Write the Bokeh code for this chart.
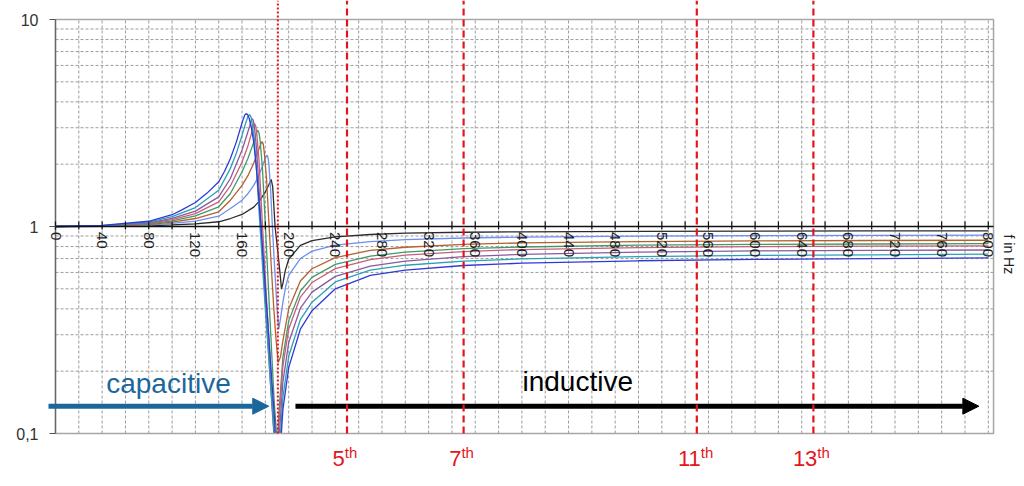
import math
from bokeh.plotting import figure
from bokeh.models import Range1d, Arrow, NormalHead
from bokeh.core.properties import value
from bokeh.embed import file_html
from bokeh.resources import INLINE

# ---------------- data ----------------
f_black = [0, 40, 80, 100, 120, 140, 150, 160, 170, 175, 180, 183, 185, 186.3, 187.3, 188.3, 190, 191.5, 193, 193.8,
           195, 197, 200, 210, 220, 240, 270, 300, 350, 400, 500, 600, 700, 800]
v_black = [1.0, 1.002, 1.008, 1.018, 1.03, 1.054, 1.093, 1.143, 1.24, 1.33, 1.47, 1.59, 1.687, 1.55, 1.25, 1.0, 0.82, 0.68, 0.56, 0.50,
           0.53, 0.61, 0.695, 0.81, 0.855, 0.89, 0.915, 0.928, 0.938, 0.943, 0.948, 0.950, 0.952, 0.953]

f_lblue = [0, 40, 80, 100, 120, 140, 150, 160, 165, 170, 174, 177, 179.5, 180.7, 181.5, 182.3, 183, 184.5, 186, 187.5, 189, 190.5,
           191.5, 193, 195, 197.3, 200, 210, 220, 240, 270, 300, 350, 400, 500, 600, 700, 800]
v_lblue = [1.0, 1.003, 1.015, 1.035, 1.061, 1.121, 1.222, 1.34, 1.44, 1.58, 1.74, 1.92, 2.1, 2.18, 2.21, 2.15, 2.0, 1.5, 1.0, 0.7, 0.5, 0.37,
           0.32, 0.36, 0.43, 0.51, 0.58, 0.70, 0.76, 0.812, 0.846, 0.864, 0.88, 0.889, 0.898, 0.903, 0.906, 0.908]

f_brown = [0, 40, 80, 100, 120, 140, 150, 160, 165, 170, 174, 176, 177.2, 178.2, 179, 181, 183, 185, 187, 189, 191, 193,
           195, 197.3, 200, 210, 220, 240, 270, 300, 350, 400, 500, 600, 700, 800]
v_brown = [1.0, 1.005, 1.022, 1.05, 1.093, 1.178, 1.34, 1.58, 1.76, 2.02, 2.33, 2.5, 2.57, 2.5, 2.3, 1.7, 1.05, 0.65, 0.42, 0.29, 0.22, 0.235,
           0.28, 0.33, 0.40, 0.545, 0.625, 0.708, 0.766, 0.794, 0.82, 0.833, 0.846, 0.852, 0.856, 0.858]

f_green = [0, 40, 80, 100, 120, 140, 150, 160, 165, 170, 172.3, 173.5, 174.6, 175.5, 177.5, 179.5, 181.5, 183.5, 185.5, 187.5, 189.5, 190.5,
           192, 195, 200, 210, 220, 240, 270, 300, 350, 400, 500, 600, 700, 800]
v_green = [1.0, 1.006, 1.028, 1.065, 1.126, 1.245, 1.443, 1.84, 2.13, 2.55, 2.84, 2.92, 2.82, 2.6, 1.9, 1.15, 0.68, 0.40, 0.24, 0.145, 0.1, 0.095,
           0.135, 0.233, 0.35, 0.488, 0.568, 0.656, 0.719, 0.752, 0.781, 0.796, 0.812, 0.819, 0.823, 0.826]

f_rose = [0, 40, 80, 100, 120, 140, 150, 160, 165, 168, 169.5, 170.7, 171.7, 172.5, 174.5, 176.5, 178.5, 180.5, 182.5, 184.5, 186.5, 188.5,
          190, 192, 195, 200, 210, 220, 240, 270, 300, 350, 400, 500, 600, 700, 800]
v_rose = [1.0, 1.007, 1.035, 1.08, 1.155, 1.316, 1.57, 2.05, 2.45, 2.8, 3.05, 3.14, 3.06, 2.85, 2.1, 1.3, 0.8, 0.5, 0.32, 0.2, 0.13, 0.09,
          0.08, 0.12, 0.211, 0.32, 0.456, 0.536, 0.626, 0.692, 0.727, 0.757, 0.774, 0.791, 0.799, 0.803, 0.806]

f_purple = [0, 40, 80, 100, 120, 140, 150, 160, 164, 166.5, 167.7, 168.7, 169.7, 170.5, 172.5, 174.5, 176.5, 178.5, 180.5, 182.5, 184.5, 186.5,
            188.5, 190, 192, 195, 200, 210, 220, 240, 270, 300, 350, 400, 500, 600, 700, 800]
v_purple = [1.0, 1.008, 1.042, 1.095, 1.186, 1.39, 1.706, 2.34, 2.75, 3.05, 3.24, 3.32, 3.25, 3.05, 2.35, 1.55, 0.95, 0.6, 0.39, 0.26, 0.17, 0.115,
            0.08, 0.07, 0.099, 0.177, 0.275, 0.403, 0.482, 0.574, 0.644, 0.681, 0.715, 0.734, 0.752, 0.762, 0.767, 0.77]

f_teal = [0, 40, 80, 100, 120, 140, 150, 155, 160, 163, 165, 166.4, 167.5, 168.5, 170.5, 172.5, 174.5, 176.5, 178.5, 180.5, 182.5, 184.5,
          186.5, 188.5, 190, 192, 195, 200, 210, 220, 240, 270, 300, 350, 400, 500, 600, 700, 800]
v_teal = [1.0, 1.01, 1.05, 1.115, 1.235, 1.497, 1.91, 2.25, 2.76, 3.15, 3.40, 3.47, 3.40, 3.2, 2.6, 1.85, 1.2, 0.8, 0.53, 0.36, 0.25, 0.17,
          0.12, 0.085, 0.06, 0.082, 0.149, 0.236, 0.355, 0.431, 0.54, 0.615, 0.65, 0.68, 0.698, 0.716, 0.725, 0.73, 0.735]

f_dblue = [0, 40, 80, 100, 108, 120, 130, 140, 145, 150, 155, 158.7, 161, 162.3, 163.5, 164.8, 166, 168, 170, 172, 174, 176,
           178, 180, 182, 184, 186, 188, 190, 192, 195, 200, 210, 220, 240, 270, 300, 350, 400, 500, 600, 700, 800]
v_dblue = [1.0, 1.012, 1.06, 1.14, 1.199, 1.306, 1.45, 1.644, 1.85, 2.13, 2.55, 3.0, 3.3, 3.45, 3.51, 3.47, 3.35, 3.0, 2.55, 2.0, 1.45, 1.05,
           0.73, 0.50, 0.35, 0.24, 0.165, 0.115, 0.06, 0.071, 0.13, 0.208, 0.319, 0.392, 0.50, 0.58, 0.615, 0.648, 0.665, 0.683, 0.694, 0.70, 0.705]

x_tick_labels = [str(t) for t in range(0, 801, 40)]
y_tick_values = [0.1, 1, 10]
y_tick_labels = ["0,1", "1", "10"]
fundamental = 50
harmonics = [5, 7, 11, 13]
harmonic_labels = ["5", "7", "11", "13"]
resonance_f = 190.7

# ---------------- layout constants ----------------
W, H = 1020, 482
X0_PX, PX_PER_HZ = 55.0, 1.166        # pixel of 0 Hz, pixels per Hz
Y1_PX, PX_PER_DEC = 226.0, 207.0      # pixel of y = 1, pixels per decade
X_END = 804.5                          # right edge of the chart box
Y_BOT, Y_TOP = 0.1, 10.0

def dx(px):          # horizontal pixel distance -> Hz
    return px / PX_PER_HZ

def ylog(px_down):   # value that lies px_down pixels below y = 1
    return 10 ** (-px_down / PX_PER_DEC)

xr0, xr1 = -X0_PX / PX_PER_HZ, (W - X0_PX) / PX_PER_HZ
yr0, yr1 = ylog(H - Y1_PX), ylog(-Y1_PX)

FONT = "Liberation Sans"
p = figure(width=W, height=H, x_range=Range1d(xr0, xr1), y_range=Range1d(yr0, yr1),
           y_axis_type="log", output_backend="svg", toolbar_location=None,
           x_axis_location=None, y_axis_location=None, min_border=0)
p.grid.visible = False
p.outline_line_color = None
p.background_fill_color = "white"
p.border_fill_color = "white"

GRID = dict(line_color="#9c9c9c", line_dash="3 2", line_width=1)
xg = list(range(20, 801, 20))
p.segment(x0=xg, y0=[Y_BOT] * len(xg), x1=xg, y1=[Y_TOP] * len(xg), **GRID)
yg = [0.2, 0.3, 0.4, 0.5, 0.6, 0.7, 0.8, 0.9, 2, 3, 4, 5, 6, 7, 8, 9]
p.segment(x0=[0] * len(yg), y0=yg, x1=[X_END] * len(yg), y1=yg, **GRID)

# curves
series = [
    (f_black, v_black, "#2b2b2b"),
    (f_lblue, v_lblue, "#6c8ff0"),
    (f_brown, v_brown, "#b5602e"),
    (f_green, v_green, "#3f9a68"),
    (f_rose, v_rose, "#c65f7c"),
    (f_purple, v_purple, "#8a5a9e"),
    (f_teal, v_teal, "#2aa0b6"),
    (f_dblue, v_dblue, "#2f3ad6"),
]
for fx, vy, col in series:
    p.line(fx, vy, line_color=col, line_width=1.3)

# hide everything of the curves that falls below the chart box
p.quad(left=xr0, right=xr1, bottom=yr0, top=Y_BOT, fill_color="white", line_color=None)

# chart box and axes
p.quad(left=0, right=X_END, bottom=Y_BOT, top=Y_TOP, fill_color=None, line_color="#a6a6a6", line_width=1.5)
p.segment(x0=0, y0=Y_BOT, x1=0, y1=Y_TOP, line_color="#666666", line_width=1.3)
p.segment(x0=0, y0=1, x1=X_END, y1=1, line_color="#111111", line_width=1.4)
xt = list(range(0, 801, 20))
p.segment(x0=xt, y0=[ylog(3)] * len(xt), x1=xt, y1=[ylog(-5)] * len(xt), line_color="#111111", line_width=1.2)
p.segment(x0=[0] * 3, y0=y_tick_values, x1=[-dx(6)] * 3, y1=y_tick_values, line_color="#555555", line_width=1.2)

# tick labels
xl = [float(s) for s in x_tick_labels]
p.text(x=xl, y=[ylog(5.5)] * len(xl), text=x_tick_labels, angle=-math.pi / 2,
       text_align="left", text_baseline="middle", text_font=value(FONT),
       text_font_size="15px", text_color="#1e1e1e")
p.text(x=[-dx(17)] * 3, y=y_tick_values, text=y_tick_labels, text_align="right",
       text_baseline="middle", text_font=value(FONT), text_font_size="16px", text_color="#333333")
p.text(x=[817.5], y=[ylog(8)], text=["f in Hz"], angle=-math.pi / 2, text_align="left",
       text_baseline="middle", text_font=value(FONT), text_font_size="14px", text_color="#222222")

# arrows and region names
BLUE = "#1b679c"
p.add_layout(Arrow(end=NormalHead(size=16, fill_color=BLUE, line_color=BLUE),
                   x_start=-6, y_start=ylog(179.7), x_end=182.9, y_end=ylog(179.7), line_color=BLUE, line_width=5))
p.add_layout(Arrow(end=NormalHead(size=16, fill_color="black", line_color="black"),
                   x_start=205.8, y_start=ylog(179.7), x_end=791.9, y_end=ylog(179.7), line_color="black", line_width=5))
p.text(x=[43.5], y=[ylog(157)], text=["capacitive"], text_baseline="alphabetic",
       text_font=value(FONT), text_font_size="28px", text_color=BLUE)
p.text(x=[400.5], y=[ylog(155)], text=["inductive"], text_baseline="alphabetic",
       text_font=value(FONT), text_font_size="28px", text_color="black")

# resonance (dotted) and harmonic (dashed) lines, from the top of the picture to the box bottom
RED = "#e3151c"
p.add_layout(Arrow(start=None, end=None, x_start=resonance_f, y_start=Y_BOT, x_end=resonance_f, y_end=yr1,
                   line_color=RED, line_width=2, line_dash="2 2"))
num_w, th_w = 12.2, 12.5   # rendered widths (px) of a digit at 22px and of "th" at 15px
for h, lab in zip(harmonics, harmonic_labels):
    fh = h * fundamental
    p.add_layout(Arrow(start=None, end=None, x_start=fh, y_start=Y_BOT, x_end=fh, y_end=yr1,
                       line_color=RED, line_width=2.2, line_dash="7 4"))
    junction = fh + dx((len(lab) * num_w - th_w) / 2 - 2)
    p.text(x=[junction], y=[ylog(232)], text=[lab], text_align="right", text_baseline="alphabetic",
           text_font=value(FONT), text_font_size="22px", text_color=RED)
    p.text(x=[junction], y=[ylog(226)], text=["th"], text_align="left", text_baseline="alphabetic",
           text_font=value(FONT), text_font_size="15px", text_color=RED)

open("out.html", "w").write(file_html(p, INLINE))
